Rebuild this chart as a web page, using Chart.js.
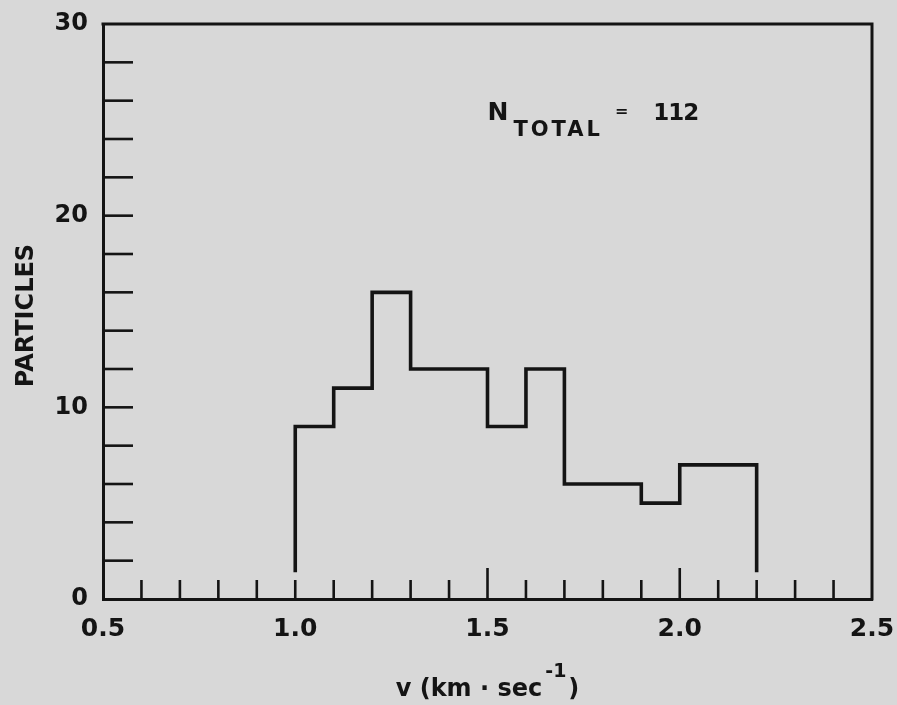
<!DOCTYPE html>
<html><head><meta charset="utf-8">
<script src="https://cdn.jsdelivr.net/npm/chart.js@4.4.1/dist/chart.umd.min.js"></script>
<style>html,body{margin:0;padding:0;background:#d8d8d8;} #wrap{width:897px;height:705px;}</style>
</head><body><div id="wrap"><canvas id="c" width="897" height="705"></canvas></div>
<script>
// ---- data ----
const binEdges = [1.0, 1.1, 1.2, 1.3, 1.4, 1.5, 1.6, 1.7, 1.8, 1.9, 2.0, 2.1, 2.2];
const binCounts = [9, 11, 16, 12, 12, 9, 12, 6, 6, 5, 7, 7];
const edgeFloor = 1.4;
const xTickLabels = ['0.5', '1.0', '1.5', '2.0', '2.5'];
const yTickLabels = ['0', '10', '20', '30'];
const xLongTicks = [1.5, 2.0];
const xTitleMain = 'v (km \u00b7 sec', xTitleSup = '-1', xTitleEnd = ')';
const yTitle = 'PARTICLES';
const noteMain = 'N', noteSub = 'TOTAL', noteEq = '=', noteValue = '112';
const noteAnchor = {x: 1.5, y: 25};

// ---- build step outline from the arrays ----
const stepPoints = [{x: binEdges[0], y: edgeFloor}];
binCounts.forEach((c, i) => {
  stepPoints.push({x: binEdges[i], y: c}, {x: binEdges[i + 1], y: c});
});
stepPoints.push({x: binEdges[binEdges.length - 1], y: edgeFloor});

const INK = '#141414';
const FONT = '"DejaVu Sans", sans-serif';

const frameAndTicks = {
  id: 'frameAndTicks',
  beforeDraw(chart) {
    const c = chart.ctx;
    c.save();
    c.fillStyle = '#d8d8d8';
    c.fillRect(0, 0, chart.width, chart.height);
    c.restore();
  },
  afterDatasetsDraw(chart) {
    const c = chart.ctx, a = chart.chartArea;
    const xs = chart.scales.x, ys = chart.scales.y;
    c.save();
    c.strokeStyle = INK;
    c.lineCap = 'butt';
    // top and right frame
    c.lineWidth = 3;
    c.beginPath();
    c.moveTo(a.left - 1.5, a.top);
    c.lineTo(a.right, a.top);
    c.lineTo(a.right, a.bottom + 1.5);
    c.stroke();
    // inward ticks
    c.lineWidth = 2.6;
    xs.ticks.forEach(t => {
      if (t.value <= xs.min + 1e-9 || t.value >= xs.max - 1e-9) return;
      const px = xs.getPixelForValue(t.value);
      const len = xLongTicks.some(v => Math.abs(v - t.value) < 1e-6) ? 31 : 19;
      c.beginPath(); c.moveTo(px, a.bottom); c.lineTo(px, a.bottom - len); c.stroke();
    });
    ys.ticks.forEach(t => {
      if (t.value <= ys.min + 1e-9 || t.value >= ys.max - 1e-9) return;
      const py = ys.getPixelForValue(t.value);
      c.beginPath(); c.moveTo(a.left, py); c.lineTo(a.left + 30, py); c.stroke();
    });

    c.fillStyle = INK;
    c.textBaseline = 'alphabetic';
    c.textAlign = 'left';

    // annotation N_TOTAL = 112
    let px = xs.getPixelForValue(noteAnchor.x);
    const py = ys.getPixelForValue(noteAnchor.y);
    c.font = 'bold 25px ' + FONT;
    c.fillText(noteMain, px, py);
    px += c.measureText(noteMain).width + 5;
    c.font = 'bold 21px ' + FONT;
    c.letterSpacing = '3px';
    c.fillText(noteSub, px, py + 16);
    px += c.measureText(noteSub).width + 12;
    c.letterSpacing = '0px';
    c.font = 'bold 16px ' + FONT;
    c.fillText(noteEq, px, py - 4);
    px += c.measureText(noteEq).width + 25;
    c.font = 'bold 23px ' + FONT;
    c.letterSpacing = '-1px';
    c.fillText(noteValue, px, py);
    c.letterSpacing = '0px';

    // x title with superscript
    c.font = 'bold 24px ' + FONT;
    const w1 = c.measureText(xTitleMain).width;
    c.font = 'bold 19px ' + FONT;
    const w2 = c.measureText(xTitleSup).width;
    c.font = 'bold 24px ' + FONT;
    const w3 = c.measureText(xTitleEnd).width;
    const total = w1 + 3 + w2 + 2 + w3;
    let tx = (a.left + a.right) / 2 - total / 2;
    const tyBase = a.bottom + 97;
    c.fillText(xTitleMain, tx, tyBase);
    tx += w1 + 3;
    c.font = 'bold 19px ' + FONT;
    c.fillText(xTitleSup, tx, tyBase - 19);
    tx += w2 + 2;
    c.font = 'bold 24px ' + FONT;
    c.fillText(xTitleEnd, tx, tyBase);

    // y title rotated
    c.save();
    c.translate(33, (a.top + a.bottom) / 2 + 4);
    c.rotate(-Math.PI / 2);
    c.textAlign = 'center';
    c.font = 'bold 24px ' + FONT;
    c.fillText(yTitle, 0, 0);
    c.restore();

    c.restore();
  }
};

new Chart(document.getElementById('c'), {
  type: 'scatter',
  data: {
    datasets: [{
      data: stepPoints,
      showLine: true,
      borderColor: INK,
      borderWidth: 3.6,
      borderJoinStyle: 'miter',
      borderCapStyle: 'butt',
      pointRadius: 0,
      pointHoverRadius: 0,
      fill: false,
      tension: 0
    }]
  },
  options: {
    responsive: false,
    animation: false,
    layout: {padding: {left: 0, right: 25, top: 24, bottom: 0}},
    plugins: {legend: {display: false}, tooltip: {enabled: false}},
    scales: {
      x: {
        type: 'linear', min: 0.5, max: 2.5,
        afterFit(s) { s.height = 106; s.paddingLeft = 0; s.paddingRight = 0; },
        grid: {display: false, drawTicks: false},
        border: {display: true, color: INK, width: 3},
        ticks: {
          stepSize: 0.1, autoSkip: false, maxRotation: 0, padding: 15,
          color: INK, font: {family: FONT, size: 25, weight: 'bold'},
          callback(v) {
            const l = xTickLabels.find(s => Math.abs(parseFloat(s) - v) < 1e-6);
            return l === undefined ? '' : l;
          }
        }
      },
      y: {
        type: 'linear', min: 0, max: 30,
        afterFit(s) { s.width = 103; s.paddingTop = 0; s.paddingBottom = 0; },
        grid: {display: false, drawTicks: false},
        border: {display: true, color: INK, width: 3},
        ticks: {
          stepSize: 2, autoSkip: false, padding: 15,
          color: INK, font: {family: FONT, size: 24, weight: 'bold'},
          callback(v) {
            const l = yTickLabels.find(s => Math.abs(parseFloat(s) - v) < 1e-6);
            return l === undefined ? '' : l;
          }
        }
      }
    }
  },
  plugins: [frameAndTicks]
});
</script>
</body></html>
